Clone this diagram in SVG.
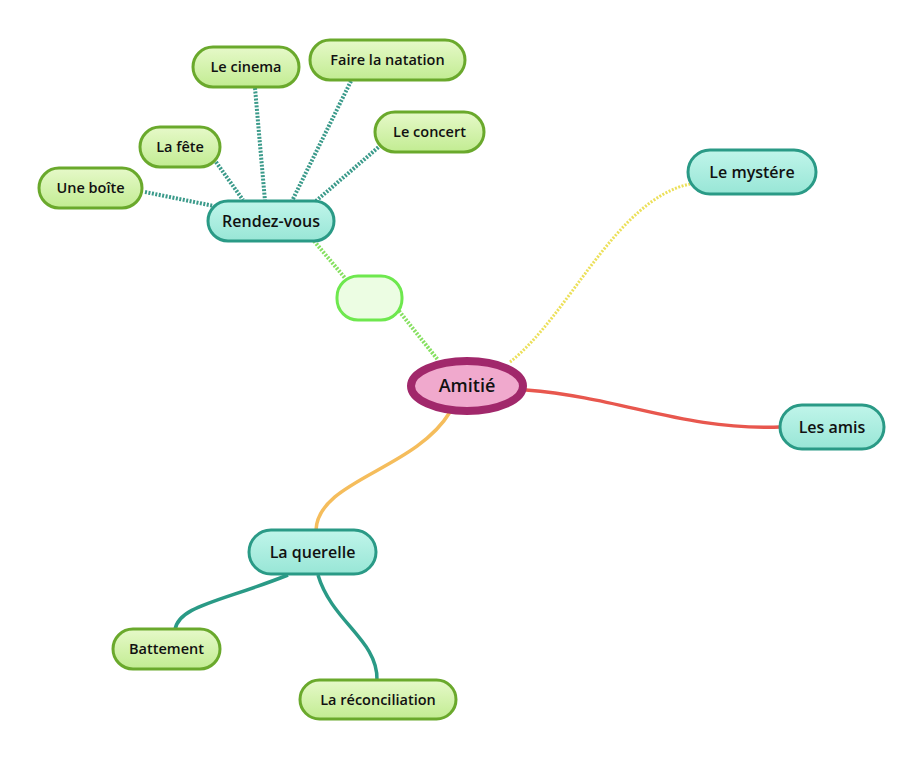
<svg xmlns="http://www.w3.org/2000/svg" width="924" height="760" viewBox="0 0 924 760">
<defs>
<linearGradient id="gGreen" x1="0" y1="0" x2="0" y2="1"><stop offset="0" stop-color="#e6f9c9"/><stop offset="1" stop-color="#c2ec92"/></linearGradient>
<linearGradient id="gTeal" x1="0" y1="0" x2="0" y2="1"><stop offset="0" stop-color="#c0f5ea"/><stop offset="1" stop-color="#98e6d6"/></linearGradient>
<style>
.green rect{fill:url(#gGreen);stroke:#6aa92c;stroke-width:3}
.teal rect{fill:url(#gTeal);stroke:#2a9a86;stroke-width:3}
text{font-family:"Open Sans","Liberation Sans",sans-serif;font-weight:600;fill:#111;text-anchor:middle}
.s{font-size:14.5px}
.m{font-size:16px}
.dotTeal{fill:none;stroke:#3a9a8a;stroke-width:4;stroke-dasharray:2 1.5}
.dotGreen{fill:none;stroke:#86e060;stroke-width:4;stroke-dasharray:2 1.5}
</style>
</defs>
<rect width="924" height="760" fill="#ffffff"/>
<g id="connectors">
<path class="dotTeal" d="M145,192 L214,206"/>
<path class="dotTeal" d="M216,162 L243,200"/>
<path class="dotTeal" d="M255,88 L265,201"/>
<path class="dotTeal" d="M351,81 L292,201"/>
<path class="dotTeal" d="M381,145 L316,201"/>
<path class="dotGreen" d="M314,241 L345,278"/>
<path class="dotGreen" d="M399,311 L438,360"/>
<path d="M510,362 C570,315 615,200 690,184" fill="none" stroke="#ece05a" stroke-width="3" stroke-dasharray="2 1.5"/>
<path d="M526,390 C625,398 680,430 780,427" fill="none" stroke="#e8574e" stroke-width="3.5"/>
<path d="M450,412 C415,470 318,480 316,530" fill="none" stroke="#f5bd5c" stroke-width="3.5"/>
<path d="M288,575 C220,602 178,606 175,630" fill="none" stroke="#2a9a86" stroke-width="3.5"/>
<path d="M318,575 C332,622 378,640 377,680" fill="none" stroke="#2a9a86" stroke-width="3.5"/>
</g>
<g id="amitie">
<ellipse cx="467" cy="386" rx="56" ry="25" fill="#f0a9cd" stroke="#a1286b" stroke-width="8"/>
<text x="467" y="392" style="font-size:18px">Amitié</text>
</g>
<g id="empty">
<rect x="337" y="276" width="65" height="44" rx="21" fill="#ecfde3" stroke="#6ee84e" stroke-width="3"/>
</g>
<g id="rendezvous" class="teal">
<rect x="208" y="201" width="126" height="40" rx="20"/>
<text class="m" x="271" y="226.5">Rendez-vous</text>
</g>
<g id="uneboite" class="green">
<rect x="39" y="168" width="103" height="40" rx="20"/>
<text class="s" x="90.5" y="193">Une boîte</text>
</g>
<g id="lafete" class="green">
<rect x="140" y="127" width="80" height="40" rx="20"/>
<text class="s" x="180" y="152">La fête</text>
</g>
<g id="lecinema" class="green">
<rect x="193" y="47" width="106" height="40" rx="20"/>
<text class="s" x="246" y="72">Le cinema</text>
</g>
<g id="natation" class="green">
<rect x="310" y="40" width="155" height="40" rx="20"/>
<text class="s" x="387.5" y="65">Faire la natation</text>
</g>
<g id="concert" class="green">
<rect x="375" y="112" width="109" height="40" rx="20"/>
<text class="s" x="429.5" y="137">Le concert</text>
</g>
<g id="mystere" class="teal">
<rect x="688" y="150" width="128" height="44" rx="22"/>
<text class="m" x="752" y="177.5">Le mystére</text>
</g>
<g id="lesamis" class="teal">
<rect x="780" y="405" width="104" height="44" rx="22"/>
<text class="m" x="832" y="432.5">Les amis</text>
</g>
<g id="querelle" class="teal">
<rect x="249" y="530" width="127" height="44" rx="22"/>
<text class="m" x="312.5" y="557.5">La querelle</text>
</g>
<g id="battement" class="green">
<rect x="113" y="629" width="107" height="40" rx="20"/>
<text class="s" x="166.5" y="654">Battement</text>
</g>
<g id="reconciliation" class="green">
<rect x="300" y="680" width="156" height="39" rx="19.5"/>
<text class="s" x="378" y="704.5">La réconciliation</text>
</g>
</svg>
